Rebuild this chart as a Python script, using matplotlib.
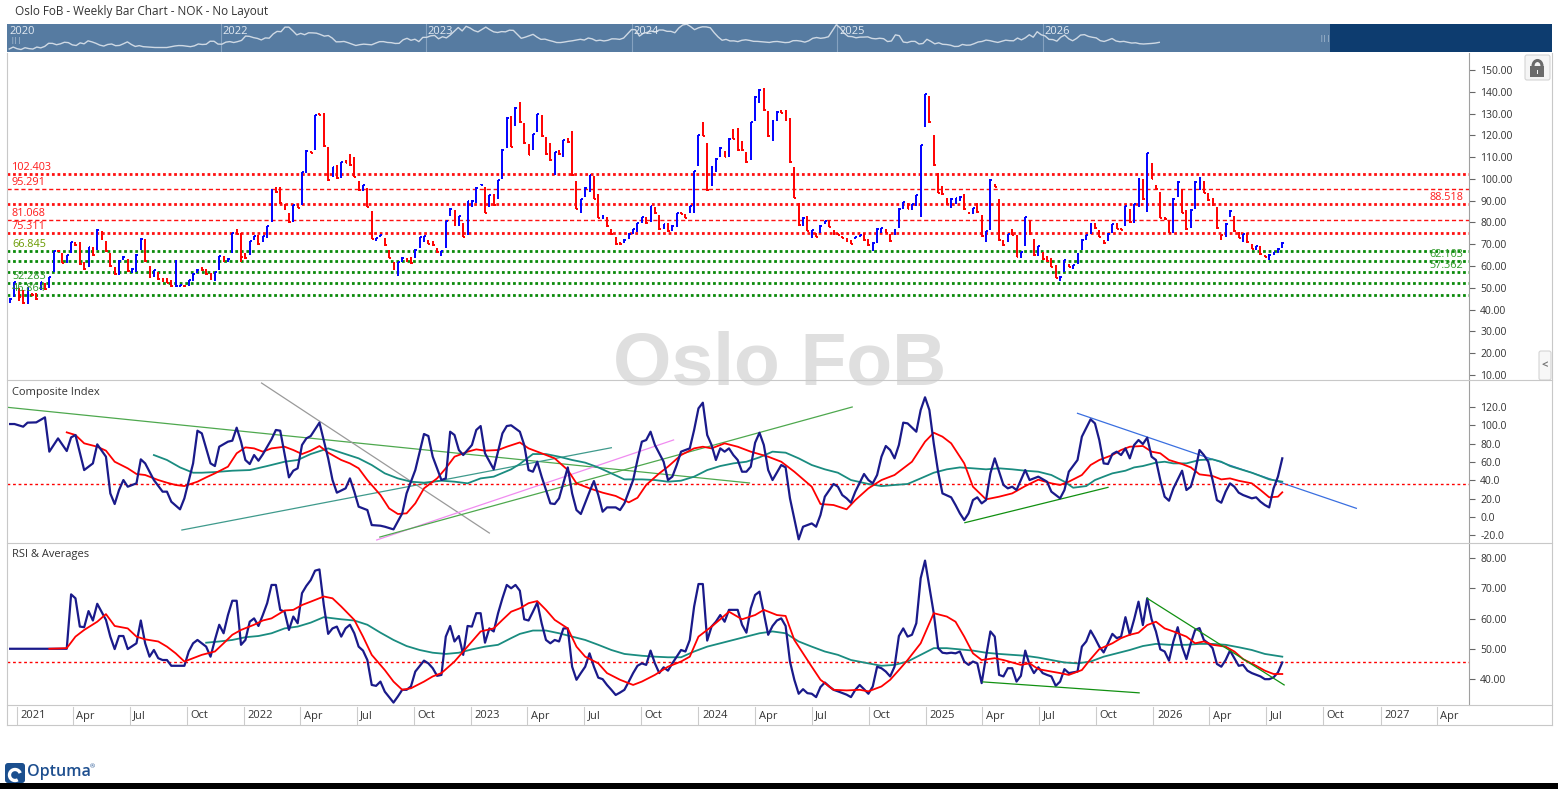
import numpy as np
import matplotlib
matplotlib.use('Agg')
import matplotlib.pyplot as plt
import matplotlib.dates as mdates
import matplotlib.transforms as mtransforms
from matplotlib.patches import Rectangle, FancyBboxPatch, Arc
from matplotlib.lines import Line2D

plt.rcParams['font.family'] = ['Open Sans', 'DejaVu Sans']

W, H = 1558, 789
first_week = np.datetime64('2020-12-21')

# weekly bars (index 0 = week of 2020-12-21)
bar_high = [
    45.2, 52.8, 50.0, 49.0, 50.4, 47.6, 47.6, 52.7, 52.4, 55.1,
    67.1, 67.4, 65.8, 65.1, 71.2, 71.2, 71.2, 62.0, 68.9, 68.9,
    76.9, 76.1, 71.7, 66.1, 59.7, 62.8, 64.6, 63.2, 59.0, 65.5,
    72.7, 72.3, 60.0, 58.2, 57.4, 54.4, 54.4, 53.6, 63.0, 51.2,
    51.3, 53.6, 56.7, 58.5, 59.4, 58.5, 56.7, 57.4, 64.6, 64.6,
    63.5, 75.0, 76.9, 75.0, 65.8, 71.7, 73.8, 74.3, 73.8, 78.5,
    95.2, 96.1, 96.4, 88.5, 84.2, 88.0, 88.5, 103.3, 113.3, 112.8,
    129.5, 130.3, 130.1, 114.8, 105.6, 106.4, 107.8, 108.7, 111.4, 109.9,
    99.0, 97.2, 95.7, 85.3, 72.9, 74.3, 72.7, 67.4, 62.0, 62.0,
    64.0, 63.5, 64.0, 67.7, 73.5, 73.8, 72.0, 71.5, 68.1, 67.1,
    80.7, 86.5, 85.7, 83.0, 79.6, 90.0, 90.2, 96.1, 97.5, 96.1,
    92.6, 93.1, 99.5, 113.7, 128.3, 128.9, 132.9, 135.5, 125.5, 116.0,
    120.6, 129.8, 129.3, 119.4, 116.3, 112.5, 113.3, 117.9, 118.6, 122.0,
    99.0, 90.8, 96.1, 101.8, 101.5, 93.1, 83.4, 82.7, 77.0, 73.5,
    70.9, 72.3, 75.0, 77.0, 79.9, 82.7, 82.7, 87.6, 87.3, 83.4,
    79.3, 79.9, 78.8, 84.5, 84.7, 83.7, 87.6, 103.8, 120.2, 126.3,
    116.6, 105.9, 109.4, 114.5, 113.0, 118.6, 122.8, 123.2, 117.4, 112.5,
    126.3, 138.0, 141.1, 141.6, 131.2, 127.0, 131.0, 131.6, 131.6, 127.8,
    105.3, 89.1, 82.4, 83.0, 76.5, 75.3, 78.8, 80.8, 81.1, 76.5,
    75.0, 73.8, 72.7, 72.0, 73.5, 74.3, 75.0, 72.3, 70.9, 77.3,
    77.6, 76.9, 74.7, 76.9, 86.5, 89.6, 89.1, 88.5, 92.6, 115.6,
    139.0, 138.0, 120.2, 102.9, 96.7, 91.1, 91.1, 91.3, 92.1, 93.1,
    84.6, 86.8, 88.8, 83.4, 76.2, 99.8, 97.7, 90.6, 72.0, 74.7,
    76.9, 74.3, 66.6, 82.7, 81.1, 72.3, 69.2, 66.6, 64.6, 63.5,
    60.5, 55.4, 62.8, 60.8, 60.5, 65.8, 72.3, 74.3, 79.6, 79.9,
    76.5, 72.0, 75.0, 79.3, 79.6, 77.3, 87.6, 86.0, 88.5, 100.3,
    99.8, 112.0, 107.1, 97.2, 94.1, 82.7, 81.1, 91.1, 99.0, 95.2,
    85.7, 86.0, 99.0, 100.7, 99.0, 93.4, 91.4, 87.3, 74.3, 79.6,
    85.7, 83.0, 75.8, 74.7, 75.0, 70.1, 69.2, 69.2, 65.1, 65.5,
    66.6, 68.1, 70.9,
]
bar_low = [
    43.2, 45.9, 44.0, 42.6, 42.6, 46.3, 44.4, 49.0, 49.0, 49.8,
    57.4, 66.6, 61.2, 61.6, 65.8, 69.4, 60.5, 58.2, 59.7, 64.6,
    67.4, 72.0, 66.6, 59.7, 55.9, 55.9, 62.8, 57.4, 57.0, 57.4,
    67.4, 62.0, 54.4, 55.1, 53.6, 52.8, 52.1, 50.5, 50.5, 50.5,
    50.5, 50.8, 53.3, 57.0, 57.8, 55.9, 53.6, 53.3, 58.2, 62.0,
    62.0, 66.1, 74.8, 62.0, 63.3, 65.1, 72.0, 69.7, 71.2, 72.7,
    80.4, 93.4, 88.5, 85.7, 79.6, 80.4, 86.5, 88.0, 102.9, 111.7,
    113.5, 129.3, 114.8, 99.2, 101.0, 99.8, 100.3, 107.2, 105.9, 100.7,
    94.4, 94.4, 87.0, 72.3, 71.7, 73.2, 69.2, 63.5, 58.2, 55.6,
    62.0, 62.0, 60.9, 63.5, 68.4, 71.2, 70.0, 69.2, 66.1, 64.8,
    68.4, 83.0, 78.4, 78.5, 73.2, 74.1, 87.0, 89.1, 97.2, 84.2,
    87.0, 87.6, 90.6, 100.1, 114.0, 114.5, 124.3, 125.8, 116.0, 110.8,
    113.3, 121.7, 119.4, 111.0, 108.4, 101.8, 111.0, 110.2, 116.6, 101.3,
    86.0, 84.2, 91.5, 94.1, 90.6, 81.9, 81.4, 78.1, 74.3, 69.7,
    69.8, 70.4, 72.3, 74.6, 75.8, 79.9, 79.3, 80.4, 83.9, 76.5,
    76.9, 75.8, 76.2, 78.1, 83.7, 81.9, 84.5, 84.5, 105.9, 119.5,
    94.6, 96.7, 103.3, 110.2, 109.9, 109.9, 118.2, 113.0, 113.0, 107.5,
    108.7, 126.7, 135.0, 131.2, 119.4, 117.6, 126.7, 130.1, 126.7, 107.5,
    91.1, 78.5, 78.5, 76.0, 72.7, 73.2, 75.3, 79.3, 77.8, 74.3,
    74.3, 72.7, 71.2, 70.0, 72.3, 73.2, 71.5, 69.4, 67.1, 70.7,
    75.0, 75.0, 71.2, 74.3, 77.3, 86.0, 86.0, 85.7, 87.6, 82.4,
    123.7, 125.8, 105.9, 93.4, 92.6, 88.0, 86.5, 88.5, 90.0, 85.7,
    84.0, 83.9, 84.5, 73.5, 71.2, 76.5, 96.1, 71.7, 69.4, 71.2,
    74.3, 64.0, 63.8, 69.4, 74.3, 64.6, 64.6, 62.8, 62.0, 59.4,
    54.4, 53.3, 57.4, 59.4, 58.5, 60.8, 67.4, 72.0, 74.6, 77.0,
    73.2, 70.1, 71.7, 75.3, 76.9, 76.5, 78.5, 79.9, 79.9, 87.0,
    90.3, 85.0, 99.8, 95.2, 81.9, 81.1, 75.0, 75.0, 91.8, 84.2,
    76.5, 77.6, 86.0, 94.9, 93.4, 90.0, 87.6, 77.0, 72.0, 73.5,
    82.4, 75.8, 72.7, 71.2, 70.7, 67.7, 67.4, 65.1, 64.0, 62.8,
    65.1, 66.1, 68.4,
]
bar_close = [
    45.0, 52.5, 46.0, 43.0, 50.0, 46.5, 44.8, 52.5, 49.3, 55.0,
    67.0, 66.7, 61.5, 65.0, 71.0, 69.6, 61.0, 58.5, 68.7, 65.0,
    76.5, 72.5, 67.0, 60.0, 56.3, 62.5, 64.3, 57.8, 58.8, 65.3,
    72.5, 62.5, 54.8, 58.0, 54.0, 53.0, 52.4, 50.8, 50.9, 51.1,
    50.7, 53.4, 56.5, 58.3, 58.0, 56.2, 54.0, 57.2, 64.4, 62.4,
    63.3, 75.0, 74.9, 64.0, 63.5, 71.5, 73.6, 70.0, 73.6, 78.3,
    95.0, 93.8, 89.0, 86.0, 80.0, 87.8, 86.8, 103.0, 113.0, 111.9,
    129.5, 129.4, 115.2, 99.6, 105.4, 100.2, 107.7, 107.3, 106.2, 101.0,
    94.7, 97.0, 87.3, 72.6, 72.8, 74.2, 69.5, 63.8, 58.5, 61.8,
    63.8, 62.3, 61.2, 67.5, 73.3, 73.6, 70.3, 69.5, 66.4, 66.9,
    80.5, 86.3, 78.7, 82.8, 73.5, 89.8, 90.0, 95.9, 97.4, 84.5,
    92.4, 87.9, 99.3, 113.5, 128.1, 114.8, 132.7, 126.1, 116.3, 111.1,
    120.4, 129.6, 119.7, 111.3, 108.7, 112.3, 111.3, 117.7, 116.9, 101.6,
    86.3, 90.6, 95.9, 101.6, 90.9, 82.2, 83.2, 78.4, 74.6, 70.0,
    69.9, 72.1, 74.8, 76.8, 79.7, 82.5, 79.6, 87.4, 84.2, 76.8,
    79.1, 76.1, 78.6, 84.3, 84.0, 82.2, 87.4, 103.6, 120.0, 119.8,
    94.9, 105.7, 109.2, 114.3, 110.2, 118.4, 118.3, 113.3, 113.2, 107.8,
    126.1, 137.8, 140.9, 131.5, 119.7, 126.8, 130.8, 130.4, 127.0, 107.8,
    91.4, 78.8, 82.2, 76.1, 76.4, 73.5, 78.6, 80.6, 78.1, 74.6,
    74.4, 73.0, 71.5, 70.3, 73.3, 74.1, 71.8, 69.7, 70.7, 77.1,
    77.4, 75.3, 71.5, 76.7, 86.3, 89.4, 86.3, 88.3, 92.4, 115.4,
    138.8, 126.1, 106.2, 93.7, 92.9, 88.3, 90.9, 91.1, 91.9, 86.0,
    84.3, 86.6, 84.8, 73.8, 76.0, 99.6, 96.4, 72.0, 69.7, 74.5,
    74.4, 64.3, 66.4, 82.5, 74.6, 64.9, 69.0, 63.1, 62.3, 59.7,
    54.7, 55.2, 62.6, 59.7, 60.3, 65.6, 72.1, 74.1, 79.4, 77.3,
    73.5, 70.4, 74.8, 79.1, 77.2, 76.7, 87.4, 80.2, 88.3, 100.1,
    90.6, 111.8, 100.1, 95.5, 82.2, 81.4, 75.3, 90.9, 98.8, 84.5,
    76.8, 85.8, 98.8, 100.5, 93.7, 90.3, 87.9, 77.3, 74.1, 79.4,
    85.5, 76.1, 73.0, 74.5, 71.0, 68.0, 69.0, 65.4, 64.3, 65.3,
    66.4, 67.9, 70.7,
]

# horizontal price levels
red_major = [102.403, 88.518, 75.311]
red_minor = [95.291, 81.068]
green_levels = [66.845, 62.103, 57.362, 52.283, 46.864]
right_labelled = [88.518, 62.103, 57.362]

# composite index (week index, value)
comp_line = [
    (0, 101.6), (1, 101.6), (3, 98.7), (4, 103.1), (6, 103.4), (8, 108.9), (9, 71.4), (11, 85.9),
    (13, 72.1), (14, 87.0), (15, 89.6), (17, 51.3), (19, 58.6), (20, 79.4), (22, 65.9), (23, 25.8),
    (24, 14.2), (25, 29.5), (26, 40.4), (27, 33.1), (29, 36.8), (30, 63.0), (31, 58.6), (33, 40.4),
    (35, 27.7), (36, 27.7), (37, 16.7), (39, 8.4), (40, 20.4), (42, 58.6), (43, 94.3), (44, 91.4),
    (46, 58.6), (47, 55.7), (48, 76.8), (50, 82.3), (51, 83.4), (52, 97.6), (53, 82.3), (54, 62.3),
    (55, 57.9), (56, 67.7), (57, 61.5), (58, 68.5), (60, 84.9), (61, 95.1), (62, 94.3), (64, 43.3),
    (65, 50.6), (66, 53.2), (67, 78.7), (68, 85.9), (69, 88.5), (71, 103.1), (73, 64.1), (74, 40.4),
    (75, 26.6), (77, 31.3), (78, 42.2), (79, 27.7), (80, 11.3), (82, 7.6), (83, -8.8), (85, -9.5),
    (86, -10.6), (88, -13.5), (90, 4.0), (91, 25.8), (93, 51.3), (95, 90.7), (96, 88.5), (97, 65.9),
    (99, 40.4), (100, 42.2), (101, 93.2), (102, 89.6), (103, 73.2), (104, 67.7), (105, 73.2),
    (106, 78.7), (107, 95.1), (108, 99.4), (109, 69.6), (111, 52.1), (113, 91.4), (114, 99.4),
    (115, 100.2), (117, 93.2), (118, 78.7), (119, 51.3), (120, 49.5), (121, 60.4), (122, 44.1),
    (124, 14.9), (125, 14.2), (126, 20.4), (128, 54.2), (129, 25.8), (130, 7.6), (131, 3.3),
    (133, 27.7), (134, 39.3), (135, 24.0), (136, 5.8), (137, 10.5), (139, 10.5), (140, 7.6),
    (141, 14.9), (143, 40.4), (144, 62.3), (145, 82.3), (146, 84.1), (147, 93.2), (148, 78.7),
    (150, 60.4), (151, 40.4), (152, 44.1), (153, 56.8), (154, 71.4), (156, 75.0), (157, 95.1),
    (158, 118.7), (159, 124.9), (160, 89.6), (161, 78.7), (162, 62.3), (163, 75.0), (164, 71.4),
    (165, 75.0), (166, 67.7), (167, 62.3), (168, 49.5), (169, 49.5), (170, 55.0), (171, 81.2),
    (172, 92.1), (173, 78.7), (174, 51.3), (175, 40.4), (177, 56.8), (178, 54.2), (179, 20.4),
    (181, -24.4), (182, -10.6), (184, -7.0), (185, -10.6), (186, 2.2), (187, 22.2), (189, 36.1),
    (190, 33.1), (191, 24.0), (192, 20.4), (193, 15.6), (194, 27.7), (196, 47.0), (197, 40.4),
    (198, 36.8), (199, 45.9), (200, 65.9), (201, 77.6), (202, 73.2), (203, 64.1), (204, 78.7),
    (205, 103.1), (206, 102.3), (208, 93.2), (209, 116.9), (210, 130.8), (211, 116.9), (212, 80.5),
    (213, 49.5), (214, 25.8), (216, 21.5), (217, 13.1), (218, 4.0), (219, -3.3), (220, 4.0),
    (221, 18.5), (222, 21.5), (223, 14.9), (224, 18.5), (225, 47.7), (226, 64.1), (227, 49.5),
    (228, 35.0), (229, 31.3), (230, 33.1), (231, 29.5), (232, 40.4), (233, 51.3), (234, 40.4),
    (236, 44.1), (238, 38.6), (239, 27.7), (241, 20.4), (242, 29.5), (243, 49.5), (245, 62.3),
    (246, 87.8), (248, 106.7), (249, 102.3), (250, 84.1), (251, 58.6), (252, 57.9), (253, 68.8),
    (254, 71.4), (255, 67.7), (256, 75.0), (257, 64.1), (258, 78.7), (259, 84.1), (260, 79.7),
    (261, 86.7), (262, 65.9), (263, 62.3), (264, 40.4), (265, 22.2), (266, 17.8), (267, 31.3),
    (269, 50.6), (270, 29.5), (271, 33.1), (272, 49.5), (273, 73.2), (274, 67.7), (275, 60.4),
    (276, 40.4), (277, 18.5), (278, 15.6), (279, 27.7), (280, 36.8), (281, 33.1), (282, 26.6),
    (283, 24.0), (285, 20.4), (286, 21.5), (287, 16.7), (288, 13.1), (289, 10.5), (290, 31.3),
    (291, 44.1), (292, 64.1),
]
comp_fast = [
    (13, 92.5), (15, 89.6), (17, 80.5), (20, 76.8), (22, 72.5), (24, 60.4), (27, 53.2), (29, 47.0),
    (31, 45.9), (34, 40.4), (36, 37.5), (38, 35.0), (40, 33.8), (43, 38.6), (45, 43.3), (47, 47.7),
    (50, 55.0), (52, 69.6), (54, 76.1), (56, 75.0), (58, 71.4), (60, 75.0), (63, 76.8), (65, 73.2),
    (67, 68.8), (69, 72.5), (71, 77.6), (73, 70.3), (76, 62.3), (78, 58.6), (80, 53.2), (82, 40.4),
    (85, 24.0), (87, 9.4), (89, 3.3), (91, 4.0), (93, 14.9), (95, 31.3), (98, 42.2), (100, 53.2),
    (102, 65.9), (105, 71.4), (107, 73.9), (109, 72.5), (112, 73.2), (114, 76.8), (117, 81.5),
    (119, 75.0), (122, 69.6), (125, 64.1), (128, 51.3), (130, 36.8), (133, 31.3), (136, 26.6),
    (139, 23.0), (142, 16.0), (144, 21.0), (146, 35.0), (149, 47.7), (151, 55.0), (154, 67.7),
    (157, 75.0), (159, 76.8), (161, 75.0), (164, 80.5), (167, 76.8), (170, 71.4), (174, 65.9),
    (177, 60.4), (180, 49.5), (184, 33.1), (186, 14.2), (189, 13.1), (192, 8.4), (194, 18.5),
    (197, 31.3), (200, 40.4), (203, 45.9), (207, 60.4), (210, 82.3), (212, 92.1), (214, 87.8),
    (216, 80.5), (219, 58.6), (221, 33.1), (224, 19.3), (227, 22.2), (230, 25.8), (233, 33.8),
    (236, 40.8), (239, 36.8), (241, 35.0), (243, 38.6), (246, 45.9), (248, 56.8), (250, 62.3),
    (253, 67.7), (255, 73.2), (257, 76.8), (260, 77.6), (262, 71.4), (264, 69.6), (266, 62.3),
    (269, 57.9), (271, 54.2), (273, 46.6), (276, 44.8), (278, 41.1), (280, 42.2), (282, 39.6),
    (285, 36.8), (287, 29.5), (289, 21.5), (291, 22.2), (292, 27.0),
]
comp_slow = [
    (33, 67.7), (36, 62.3), (39, 54.2), (42, 48.4), (44, 48.4), (47, 49.1), (51, 50.6), (55, 51.3),
    (59, 55.7), (63, 60.4), (66, 62.3), (69, 68.8), (73, 75.0), (76, 70.3), (80, 64.1), (83, 56.8),
    (86, 47.7), (89, 42.2), (92, 38.6), (95, 37.5), (99, 39.7), (102, 38.6), (105, 36.8), (108, 42.2),
    (111, 44.1), (115, 52.1), (117, 58.0), (120, 68.8), (123, 68.8), (126, 65.9), (129, 62.3),
    (132, 59.4), (135, 54.2), (138, 47.7), (141, 41.1), (145, 41.1), (148, 40.4), (151, 38.6),
    (154, 39.7), (157, 44.1), (160, 51.3), (163, 55.7), (166, 58.6), (169, 60.4), (172, 65.2),
    (175, 71.4), (178, 70.3), (181, 64.1), (184, 56.8), (187, 52.1), (190, 48.4), (193, 40.4),
    (197, 36.1), (200, 33.8), (203, 35.0), (206, 36.1), (209, 42.2), (212, 48.4), (215, 52.1),
    (218, 54.2), (221, 53.2), (224, 52.1), (227, 53.2), (230, 52.1), (233, 50.6), (236, 49.5),
    (239, 45.9), (242, 38.6), (244, 32.0), (247, 33.8), (249, 40.4), (251, 44.1), (253, 47.7),
    (256, 50.6), (258, 54.2), (260, 55.7), (263, 59.4), (265, 60.4), (267, 58.6), (270, 58.6),
    (273, 62.3), (276, 63.0), (278, 60.4), (280, 55.7), (283, 51.3), (285, 48.4), (287, 44.8),
    (289, 41.1), (292, 38.6),
]
comp_ref = 35.7

# RSI (week index, value)
rsi_line = [
    (0, 50.1), (13, 50.1), (14, 68.0), (15, 66.7), (16, 57.4), (17, 57.2), (18, 62.5), (19, 59.4),
    (20, 64.9), (22, 59.6), (23, 54.1), (24, 50.0), (25, 54.3), (26, 54.3), (27, 50.0), (29, 51.9),
    (30, 59.4), (31, 51.9), (32, 47.5), (33, 49.7), (34, 47.0), (35, 46.4), (36, 46.4), (37, 44.5),
    (39, 44.5), (40, 44.5), (41, 49.2), (42, 51.9), (43, 53.0), (45, 50.8), (46, 47.5), (47, 53.0),
    (48, 58.0), (49, 55.2), (50, 61.2), (51, 65.9), (52, 65.9), (53, 51.4), (54, 53.0), (55, 59.0),
    (56, 60.1), (57, 57.6), (58, 61.2), (59, 65.1), (60, 71.1), (61, 71.1), (62, 62.9), (63, 62.3),
    (64, 56.3), (65, 60.7), (66, 58.5), (67, 68.4), (68, 70.8), (69, 72.7), (70, 75.8), (71, 76.2),
    (72, 64.5), (73, 55.0), (74, 56.8), (75, 57.4), (76, 54.1), (77, 56.8), (78, 58.0), (79, 55.2),
    (80, 50.8), (81, 49.5), (82, 46.4), (83, 38.2), (84, 37.9), (85, 39.3), (86, 36.0), (88, 32.4),
    (89, 34.4), (90, 36.6), (91, 36.6), (92, 37.7), (93, 42.6), (95, 46.2), (96, 45.3), (97, 43.7),
    (98, 41.2), (99, 41.5), (100, 54.1), (101, 57.6), (102, 52.5), (103, 54.3), (104, 48.1),
    (105, 57.6), (106, 57.4), (107, 61.8), (108, 61.8), (109, 52.1), (110, 56.8), (111, 55.8),
    (112, 61.8), (113, 66.7), (114, 71.1), (115, 70.0), (116, 71.1), (117, 69.2), (118, 59.8),
    (119, 59.4), (120, 62.3), (121, 65.3), (122, 58.5), (123, 53.0), (124, 51.9), (125, 53.0),
    (126, 52.5), (127, 56.8), (128, 56.8), (129, 44.2), (130, 39.9), (131, 42.1), (132, 44.2),
    (133, 48.6), (134, 44.2), (135, 40.6), (136, 40.1), (137, 38.2), (138, 36.6), (139, 34.9),
    (140, 35.7), (141, 36.6), (142, 39.3), (143, 42.1), (144, 44.5), (145, 45.3), (146, 44.8),
    (147, 49.5), (148, 45.3), (149, 42.1), (150, 44.0), (151, 42.9), (152, 45.3), (153, 47.5),
    (154, 49.7), (155, 49.2), (156, 53.0), (157, 64.0), (158, 71.4), (159, 71.4), (160, 52.8),
    (161, 57.4), (162, 59.0), (163, 61.2), (164, 59.0), (165, 62.9), (166, 62.9), (167, 62.9),
    (168, 58.0), (169, 55.4), (170, 63.4), (171, 67.8), (172, 68.9), (173, 61.8), (174, 54.7),
    (175, 57.6), (176, 59.4), (177, 60.1), (178, 57.6), (179, 45.9), (180, 39.9), (181, 35.3),
    (182, 36.8), (183, 35.5), (184, 35.3), (185, 34.2), (186, 37.5), (187, 39.0), (188, 37.7),
    (189, 36.6), (190, 36.1), (192, 35.0), (193, 34.2), (194, 36.6), (195, 38.2), (196, 36.8),
    (197, 35.3), (198, 37.7), (199, 44.2), (200, 43.7), (201, 42.6), (202, 41.0), (203, 44.2),
    (204, 54.3), (205, 56.8), (206, 54.1), (207, 54.7), (208, 58.5), (209, 73.3), (210, 79.1),
    (211, 70.5), (212, 61.8), (213, 50.3), (214, 48.8), (215, 48.6), (216, 48.8), (217, 48.6),
    (218, 49.2), (219, 45.9), (220, 44.8), (221, 45.9), (222, 45.3), (223, 38.8), (224, 47.5),
    (225, 55.8), (226, 54.1), (227, 41.5), (228, 41.0), (229, 43.7), (230, 43.7), (231, 39.3),
    (232, 41.2), (233, 49.5), (234, 44.8), (235, 42.1), (236, 44.0), (237, 42.1), (238, 41.5),
    (239, 41.0), (240, 37.9), (241, 39.3), (242, 43.4), (243, 42.1), (245, 42.6), (246, 50.8),
    (247, 52.5), (248, 56.1), (249, 53.6), (250, 50.8), (251, 48.9), (252, 51.9), (253, 55.0),
    (254, 53.6), (255, 54.1), (256, 60.5), (257, 54.7), (258, 59.8), (259, 65.6), (260, 57.9),
    (261, 66.7), (262, 59.8), (263, 55.8), (264, 49.9), (265, 49.2), (266, 46.2), (267, 52.5),
    (268, 57.2), (269, 50.8), (270, 46.7), (271, 51.9), (272, 56.3), (273, 56.9), (274, 53.0),
    (275, 51.9), (276, 50.3), (277, 45.1), (278, 44.2), (279, 46.4), (280, 49.5), (281, 47.0),
    (282, 44.5), (283, 44.8), (284, 42.9), (285, 42.1), (287, 41.0), (288, 40.1), (289, 40.1),
    (290, 40.7), (291, 42.3), (292, 45.6),
]
rsi_fast = [
    (9, 50.1), (13, 50.3), (15, 54.1), (17, 56.3), (20, 59.0), (22, 61.5), (24, 57.6), (27, 56.8),
    (29, 54.1), (31, 53.2), (34, 52.5), (36, 50.8), (38, 48.6), (40, 45.9), (42, 47.0), (44, 48.1),
    (47, 49.2), (49, 51.9), (51, 54.7), (53, 56.3), (56, 58.0), (58, 59.4), (60, 60.1), (63, 62.7),
    (65, 62.9), (67, 64.5), (69, 65.6), (72, 67.3), (74, 66.7), (76, 64.0), (79, 59.6), (81, 54.1),
    (83, 48.1), (86, 43.1), (88, 39.3), (90, 36.6), (92, 37.1), (95, 39.3), (97, 41.0), (99, 42.1),
    (102, 45.9), (104, 49.2), (106, 52.5), (108, 55.8), (111, 56.8), (113, 59.6), (115, 62.3),
    (117, 63.4), (119, 65.1), (121, 65.8), (123, 62.9), (125, 59.6), (128, 56.8), (130, 50.8),
    (132, 47.5), (135, 45.3), (137, 42.1), (140, 39.9), (143, 38.2), (145, 39.3), (148, 41.5),
    (151, 44.2), (154, 45.9), (156, 47.5), (158, 54.1), (161, 57.4), (163, 59.8), (165, 62.3),
    (168, 59.8), (171, 61.2), (173, 62.9), (176, 61.2), (178, 60.9), (180, 53.0), (184, 44.2),
    (186, 39.9), (189, 36.6), (192, 36.4), (195, 36.6), (197, 36.1), (200, 37.7), (202, 39.9),
    (204, 43.1), (206, 46.4), (209, 51.9), (211, 58.5), (212, 61.8), (215, 60.7), (217, 59.0),
    (219, 54.1), (221, 48.6), (223, 46.4), (226, 47.0), (228, 46.4), (230, 45.6), (232, 44.8),
    (234, 45.3), (236, 43.4), (239, 42.6), (241, 42.1), (243, 41.5), (246, 43.1), (248, 46.7),
    (250, 50.0), (253, 51.9), (255, 53.6), (257, 54.7), (259, 55.4), (261, 57.9), (263, 59.0),
    (265, 56.8), (267, 55.8), (270, 54.1), (272, 51.9), (274, 52.5), (276, 51.4), (279, 50.8),
    (281, 49.2), (283, 46.7), (286, 44.5), (288, 42.9), (290, 41.8), (292, 41.8),
]
rsi_slow = [
    (45, 52.1), (48, 52.5), (51, 53.0), (54, 53.9), (57, 54.3), (60, 55.2), (63, 56.8), (66, 57.4),
    (69, 58.7), (72, 60.5), (76, 59.8), (79, 59.4), (82, 58.0), (85, 55.4), (88, 53.0), (91, 51.0),
    (94, 49.7), (97, 48.8), (100, 48.4), (103, 48.8), (106, 49.9), (109, 50.8), (112, 51.4),
    (115, 53.6), (117, 55.0), (120, 56.1), (123, 56.1), (126, 55.2), (129, 54.1), (132, 53.0),
    (135, 51.4), (138, 49.7), (141, 48.4), (145, 47.8), (148, 47.5), (151, 47.3), (154, 47.3),
    (157, 49.2), (160, 50.8), (163, 51.9), (166, 53.0), (169, 54.1), (172, 55.2), (175, 55.8),
    (178, 55.2), (181, 52.5), (184, 50.8), (187, 49.2), (190, 48.1), (193, 46.4), (197, 45.3),
    (200, 44.5), (203, 44.8), (206, 45.9), (209, 48.1), (212, 50.3), (215, 50.3), (218, 49.9),
    (221, 49.5), (224, 48.8), (227, 48.4), (230, 48.1), (233, 47.8), (236, 47.2), (239, 46.4),
    (242, 45.6), (245, 45.3), (248, 45.9), (251, 47.5), (254, 48.6), (257, 49.7), (260, 51.0),
    (263, 51.7), (266, 51.4), (270, 51.4), (273, 51.7), (276, 51.7), (279, 51.4), (282, 50.6),
    (285, 49.7), (288, 48.4), (292, 47.5),
]
rsi_ref = 45.6

# drawn trend lines: start date, start value, end date, end value
comp_trends = [
    ('2020-12-16', 119.9, '2024-03-23', 37.2),
    ('2022-01-29', 146.4, '2023-01-30', -17.5),
    ('2021-09-23', -14.2, '2023-08-14', 75.7),
    ('2022-08-02', -25.1, '2023-11-22', 84.2),
    ('2022-08-07', -21.9, '2024-09-04', 120.2),
    ('2025-03-04', -6.2, '2025-10-20', 32.4),
    ('2025-09-01', 113.3, '2026-11-23', 9.5),
]
comp_trend_colors = ['#4ea84e', '#9a9a9a', '#3f9a8c', '#f08cf0', '#4ea84e', '#119011', '#3a6fe0']
rsi_trends = [
    ('2025-04-02', 39.2, '2025-12-09', 35.6),
    ('2025-12-22', 66.7, '2026-07-30', 38.2),
]

quarter_labels = ['2021', 'Apr', 'Jul', 'Oct', '2022', 'Apr', 'Jul', 'Oct', '2023', 'Apr', 'Jul', 'Oct',
                  '2024', 'Apr', 'Jul', 'Oct', '2025', 'Apr', 'Jul', 'Oct', '2026', 'Apr', 'Jul', 'Oct',
                  '2027', 'Apr']
nav_years = ['2022', '2023', '2024', '2025', '2026']


def weeks(idx):
    return mdates.date2num(first_week + np.asarray(idx, dtype=int) * np.timedelta64(7, 'D'))


def day(s):
    return mdates.date2num(np.datetime64(s))


fig = plt.figure(figsize=(W / 100, H / 100), dpi=100)


def px_axes(x0, y0, x1, y1, **kw):
    return fig.add_axes([x0 / W, 1 - y1 / H, (x1 - x0) / W, (y1 - y0) / H], **kw)


def fig_line(x0, y0, x1, y1, color='#c8c8c8', lw=0.8):
    fig.add_artist(Line2D([x0 / W, x1 / W], [1 - y0 / H, 1 - y1 / H], color=color, lw=lw,
                          transform=fig.transFigure))


x_lo, x_hi = day('2020-12-16'), day('2027-05-23')

# background overlay in pixel coordinates
ov = px_axes(0, 0, W, H, zorder=-1)
ov.set_xlim(0, W)
ov.set_ylim(H, 0)
ov.axis('off')
ov.text(779.5, 365, 'Oslo FoB', ha='center', va='center', fontsize=54, fontweight='bold',
        color='#dfdfdf', family='Liberation Sans')

# lock button and side arrow
ov.add_patch(FancyBboxPatch((1525, 55), 25, 25, boxstyle='round,pad=0,rounding_size=2',
                            fc='#f5f5f5', ec='#d4d4d4', lw=0.8))
ov.add_patch(Rectangle((1530.5, 66), 14, 10.5, fc='#6b6b6b', ec='none'))
ov.add_patch(Arc((1537.5, 66), 9, 11, theta1=180, theta2=360, color='#6b6b6b', lw=2.2))
ov.add_patch(Rectangle((1536.8, 69.5), 1.5, 4, fc='#f5f5f5', ec='none'))
ov.add_patch(FancyBboxPatch((1539, 351), 12, 29, boxstyle='round,pad=0,rounding_size=2',
                            fc='#f7f7f7', ec='#d4d4d4', lw=0.8))
ov.text(1545, 366, '<', ha='center', va='center', fontsize=8, fontweight='bold', color='#777777')

# Optuma logo and bottom bar
ov.add_patch(FancyBboxPatch((5, 763), 20, 20, boxstyle='round,pad=0,rounding_size=3',
                            fc='#1b4f8e', ec='none'))
ov.add_patch(Arc((15, 775), 11, 11, theta1=60, theta2=340, color='white', lw=2.4))
ov.text(27, 772.5, 'Optuma', ha='left', va='center', fontsize=11.5, color='#1e4f8f',
        fontweight='semibold')
ov.text(90, 766.5, '®', ha='left', va='center', fontsize=4.5, color='#1e4f8f')
ov.add_patch(Rectangle((0, 783), W, 6, fc='black', ec='none'))

fig.text(15 / W, 1 - 12 / H, 'Oslo FoB - Weekly Bar Chart - NOK - No Layout', ha='left',
         va='center', fontsize=8.5, color='#333333')

# navigator strip
nav = px_axes(7, 24, 1552, 52, facecolor='#567ba1')
nav.set_xlim(day('2020-12-17'), day('2028-06-24'))
nav.set_ylim(33.4, 141.6)
nav.axvspan(day('2027-05-26'), day('2028-06-24'), color='#0d3c6f', lw=0)
for y in nav_years:
    nav.axvline(day(y + '-01-01'), color='#86a2c0', lw=0.8)
    nav.text(day(y + '-01-01') + 3, 0.72, y, transform=nav.get_xaxis_transform(), ha='left',
             va='center', fontsize=8, color='#e3eaf2')
nav.text(0.0013, 0.72, '2020', transform=nav.transAxes, ha='left', va='center', fontsize=8,
         color='#e3eaf2')
nav.text(0.0025, 0.42, '|||', transform=nav.transAxes, ha='left', va='center', fontsize=5,
         color='#c9d6e4')
nav.text(day('2027-05-18'), 0.5, '|||', transform=nav.get_xaxis_transform(), ha='center',
         va='center', fontsize=5, color='#c9d6e4')
nav.plot(weeks(np.arange(len(bar_close))), bar_close, color='#cfd9e4', lw=1.0)
nav.set_xticks([])
nav.set_yticks([])
for s in nav.spines.values():
    s.set_visible(False)


def style_panel(ax, ylim, ticks, fmt):
    ax.set_xlim(x_lo, x_hi)
    ax.set_ylim(*ylim)
    ax.set_xticks([])
    ax.yaxis.tick_right()
    ax.set_yticks(ticks)
    ax.set_yticklabels([fmt % t for t in ticks])
    ax.tick_params(axis='y', length=4, width=0.8, color='#666666', labelcolor='#333333',
                   labelsize=7.5, pad=4)
    for s in ('top', 'bottom', 'left'):
        ax.spines[s].set_visible(False)
    ax.spines['right'].set_color('#a0a0a0')
    ax.spines['right'].set_linewidth(0.8)


# price panel
ax = px_axes(7, 53, 1469, 380, facecolor='none')
style_panel(ax, (7.7, 157.8), np.arange(10, 151, 10), '%.2f')

for lv in red_major:
    ax.axhline(lv, color='#ff1010', lw=2.0, ls=(0, (1, 1)), zorder=2)
for lv in red_minor:
    ax.axhline(lv, color='#ff1010', lw=1.0, ls=(0, (3, 2)), zorder=2)
for lv in green_levels:
    ax.axhline(lv, color='#0a8a0a', lw=2.0, ls=(0, (1, 1)), zorder=2)

lab_left = mtransforms.offset_copy(mtransforms.blended_transform_factory(ax.transAxes, ax.transData),
                                   fig=fig, x=0, y=1, units='dots')
for lv in red_major + red_minor + green_levels:
    col = '#ff1a1a' if lv in red_major + red_minor else ('#6a9a00' if lv == 66.845 else '#2f9a2a')
    if lv in right_labelled:
        ax.text(0.9959, lv, '%.3f' % lv, transform=lab_left, ha='right', va='bottom',
                fontsize=7.8, color=col, zorder=4)
    else:
        ax.text(0.0034, lv, '%.3f' % lv, transform=lab_left, ha='left', va='bottom',
                fontsize=7.8, color=col, zorder=4)

bar_dates = weeks(np.arange(len(bar_close)))
closes = np.array(bar_close)
prev_close = np.r_[closes[0], closes[:-1]]
bar_cols = np.where(closes >= prev_close, '#0000ff', '#ff0000')
ax.vlines(bar_dates, bar_low, bar_high, colors=bar_cols, lw=1.4, zorder=3)
ax.hlines(closes, bar_dates, bar_dates + 3, colors=bar_cols, lw=1.4, zorder=3)

# composite index panel
cx = px_axes(7, 380, 1469, 542, facecolor='none')
style_panel(cx, (-27.3, 149.7), np.arange(-20, 121, 20), '%.1f')
for (d0, v0, d1, v1), col in zip(comp_trends, comp_trend_colors):
    cx.plot([day(d0), day(d1)], [v0, v1], color=col, lw=0.9, zorder=2)
cx.axhline(comp_ref, color='#ff0000', lw=1.0, ls=(0, (2, 2)), zorder=2)
for series, col, lw in ((comp_slow, '#1a8c80', 1.3), (comp_fast, '#ff0000', 1.3),
                        (comp_line, '#1a1a8a', 1.6)):
    arr = np.array(series)
    cx.plot(weeks(arr[:, 0]), arr[:, 1], color=col, lw=lw, zorder=3)

# RSI panel
rx = px_axes(7, 543, 1469, 705, facecolor='none')
style_panel(rx, (31.6, 84.9), np.arange(40, 81, 10), '%.2f')
for d0, v0, d1, v1 in rsi_trends:
    rx.plot([day(d0), day(d1)], [v0, v1], color='#119011', lw=0.9, zorder=4)
rx.axhline(rsi_ref, color='#ff0000', lw=1.0, ls=(0, (2, 2)), zorder=2)
for series, col, lw in ((rsi_slow, '#1a8c80', 1.3), (rsi_line, '#1a1a8a', 1.6),
                        (rsi_fast, '#ff0000', 1.3)):
    arr = np.array(series)
    rx.plot(weeks(arr[:, 0]), arr[:, 1], color=col, lw=lw, zorder=3)

fig.text(12 / W, 1 - 392 / H, 'Composite Index', ha='left', va='center', fontsize=8,
         color='#333333')
fig.text(12 / W, 1 - 555 / H, 'RSI & Averages', ha='left', va='center', fontsize=8,
         color='#333333')

# date strip
sx = px_axes(7, 705, 1469, 725, facecolor='none')
sx.set_xlim(x_lo, x_hi)
sx.set_ylim(0, 1)
sx.axis('off')
q_dates = np.arange('2021-01', '2027-05', 3, dtype='datetime64[M]')
lab_tr = mtransforms.offset_copy(sx.get_xaxis_transform(), fig=fig, x=3.5, y=0, units='dots')
for qd, lab in zip(q_dates, quarter_labels):
    qn = mdates.date2num(qd.astype('datetime64[D]'))
    sx.plot([qn, qn], [0, 0.92], color='#cccccc', lw=0.8)
    sx.text(qn, 0.45, lab, transform=lab_tr, ha='left', va='center', fontsize=8,
            color='#333333')

# frame lines
for y in (380, 543, 705, 725):
    fig_line(7, y, 1552, y)
fig_line(7, 53, 7, 725)
fig_line(1552, 53, 1552, 725)

fig.savefig('out.png', dpi=100)
